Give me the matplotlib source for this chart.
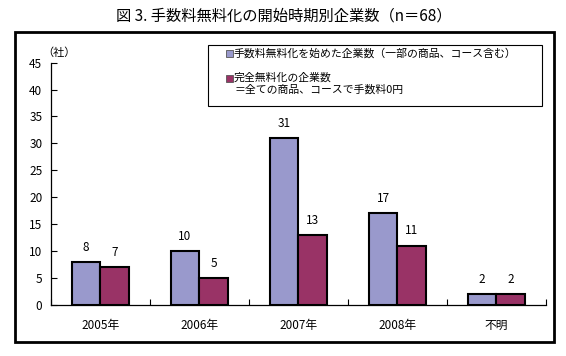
import numpy as np
import matplotlib
matplotlib.use("Agg")
import matplotlib.pyplot as plt
from matplotlib.patches import Rectangle

plt.rcParams['font.family'] = ['Noto Sans CJK JP', 'DejaVu Sans']

categories = ['2005年', '2006年', '2007年', '2008年', '不明']
partial = [8, 10, 31, 17, 2]
complete = [7, 5, 13, 11, 2]
label_partial = '手数料無料化を始めた企業数（一部の商品、コース含む）'
label_complete = '完全無料化の企業数'
label_complete2 = '＝全ての商品、コースで手数料0円'
title = '図 3. 手数料無料化の開始時期別企業数（n＝68）'
yticks = [0, 5, 10, 15, 20, 25, 30, 35, 40, 45]

c_partial = '#9999cc'
c_complete = '#993366'

W, H = 566, 356
fig = plt.figure(figsize=(W / 100, H / 100), dpi=100)

def fx(px):
    return px / W

def fy(py):
    return 1 - py / H

# outer frame
fig.patches.append(Rectangle((fx(15), fy(342)), fx(554) - fx(15), fy(32) - fy(342),
                             transform=fig.transFigure, fill=False,
                             edgecolor='black', linewidth=2.0))

fig.text(fx(284), fy(16), title, ha='center', va='center', fontsize=11)

ax = fig.add_axes([fx(50.7), fy(305), fx(546) - fx(50.7), fy(62.6) - fy(305)])
x = np.arange(len(categories))
w = 0.29
b1 = ax.bar(x - w / 2, partial, w, color=c_partial, edgecolor='black', linewidth=1.5)
b2 = ax.bar(x + w / 2, complete, w, color=c_complete, edgecolor='black', linewidth=1.5)
for bars in (b1, b2):
    ax.bar_label(bars, padding=6, fontsize=8.5)

ax.set_xlim(-0.5, len(categories) - 0.5)
ax.set_ylim(0, 45)
ax.set_yticks(yticks)
ax.set_xticks(x)
ax.set_xticklabels(categories, fontsize=8.5)
ax.set_xticks(np.arange(len(categories) + 1) - 0.5, minor=True)
ax.tick_params(axis='x', which='major', length=0, pad=10)
ax.tick_params(axis='x', which='minor', direction='in', length=4, width=0.8)
ax.tick_params(axis='y', direction='in', length=4, width=0.8, labelsize=8.5, pad=6)
for s in ('top', 'right'):
    ax.spines[s].set_visible(False)
for s in ('left', 'bottom'):
    ax.spines[s].set_linewidth(0.9)
ax.patch.set_alpha(0)

fig.text(fx(42), fy(53), '（社）', ha='left', va='center', fontsize=8)

# legend
fig.patches.append(Rectangle((fx(208), fy(106)), fx(542) - fx(208), fy(45) - fy(106),
                             transform=fig.transFigure, fill=False,
                             edgecolor='black', linewidth=0.8))
for yy, col in ((53, c_partial), (78, c_complete)):
    fig.patches.append(Rectangle((fx(226), fy(yy + 3.5)), fx(7), fy(0) - fy(7),
                                 transform=fig.transFigure, facecolor=col,
                                 edgecolor='#555555', linewidth=0.6))
fig.text(fx(234), fy(53), label_partial, ha='left', va='center', fontsize=7.8)
fig.text(fx(234), fy(78), label_complete, ha='left', va='center', fontsize=7.8)
fig.text(fx(234), fy(90), label_complete2, ha='left', va='center', fontsize=7.8)

fig.savefig('out.png', dpi=100)
